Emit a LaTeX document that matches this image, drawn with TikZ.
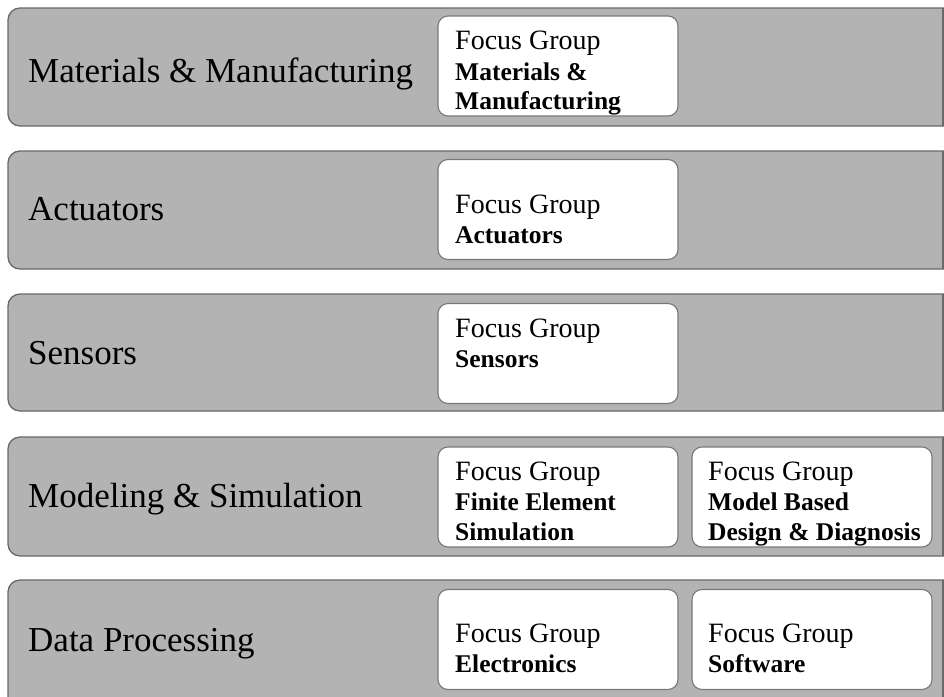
\documentclass[tikz,border=0pt]{standalone}
\usepackage{fontspec}
\setmainfont{Liberation Serif}
\definecolor{bandfill}{RGB}{179,179,179}
\definecolor{banddraw}{RGB}{105,105,105}
\definecolor{boxdraw}{RGB}{120,120,120}
\tikzset{
  bandshape/.style={fill=bandfill, draw=banddraw, line width=1.3pt},
  fgbox/.style={draw=boxdraw, fill=white, line width=1.1pt, rounded corners=10pt,
    minimum width=240pt, minimum height=100pt, inner sep=0pt},
  bandlabel/.style={anchor=base west, inner sep=0pt, font=\fontsize{35}{42}\selectfont},
  fgtitle/.style={anchor=base west, inner sep=0pt, font=\fontsize{28}{33}\selectfont},
  fgname/.style={anchor=base west, inner sep=0pt, font=\fontsize{25.5}{30}\selectfont\bfseries},
}
\newcommand{\bandpath}[2]{%
  \draw[bandshape] (960,#1) -- (20,#1) arc[start angle=270, end angle=180, radius=12]
    -- (8,#2-12) arc[start angle=180, end angle=90, radius=12] -- (960,#2) -- cycle;
  \draw[banddraw, line width=1.3pt] (943,#1) -- (943,#2);
}
\begin{document}
\begin{tikzpicture}[x=1pt, y=-1pt]
\useasboundingbox (0,0) rectangle (944,696);
\clip (0,0) rectangle (944,696);
\fill[white] (0,0) rectangle (944,696);

% bands
\bandpath{8}{126}
\bandpath{151}{269}
\bandpath{294}{411}
\bandpath{437}{556}
\bandpath{580}{715}

% band labels
\node[bandlabel] (l1) at (28,82) {Materials \& Manufacturing};
\node[bandlabel] (l2) at (28,220) {Actuators};
\node[bandlabel] (l3) at (28,364) {Sensors};
\node[bandlabel] (l4) at (28,507) {Modeling \& Simulation};
\node[bandlabel] (l5) at (28,651) {Data Processing};

% focus group boxes
\node[fgbox] (b1) at (558,66) {};
\node[fgbox] (b2) at (558,209.5) {};
\node[fgbox] (b3) at (558,353.5) {};
\node[fgbox] (b4a) at (558,497) {};
\node[fgbox] (b4b) at (812,497) {};
\node[fgbox] (b5a) at (558,639.5) {};
\node[fgbox] (b5b) at (812,639.5) {};

% box texts
\node[fgtitle] (t1) at (455,49) {Focus Group};
\node[fgname] (n1a) at (455,80) {Materials \&};
\node[fgname] (n1b) at (455,109) {Manufacturing};

\node[fgtitle] (t2) at (455,213) {Focus Group};
\node[fgname] (n2) at (455,243) {Actuators};

\node[fgtitle] (t3) at (455,337) {Focus Group};
\node[fgname] (n3) at (455,367) {Sensors};

\node[fgtitle] (t4a) at (455,480) {Focus Group};
\node[fgname] (n4a1) at (455,510) {Finite Element};
\node[fgname] (n4a2) at (455,540) {Simulation};

\node[fgtitle] (t4b) at (708,480) {Focus Group};
\node[fgname] (n4b1) at (708,510) {Model Based};
\node[fgname] (n4b2) at (708,540) {Design \& Diagnosis};

\node[fgtitle] (t5a) at (455,642) {Focus Group};
\node[fgname] (n5a) at (455,672) {Electronics};

\node[fgtitle] (t5b) at (708,642) {Focus Group};
\node[fgname] (n5b) at (708,672) {Software};
\end{tikzpicture}
\end{document}
